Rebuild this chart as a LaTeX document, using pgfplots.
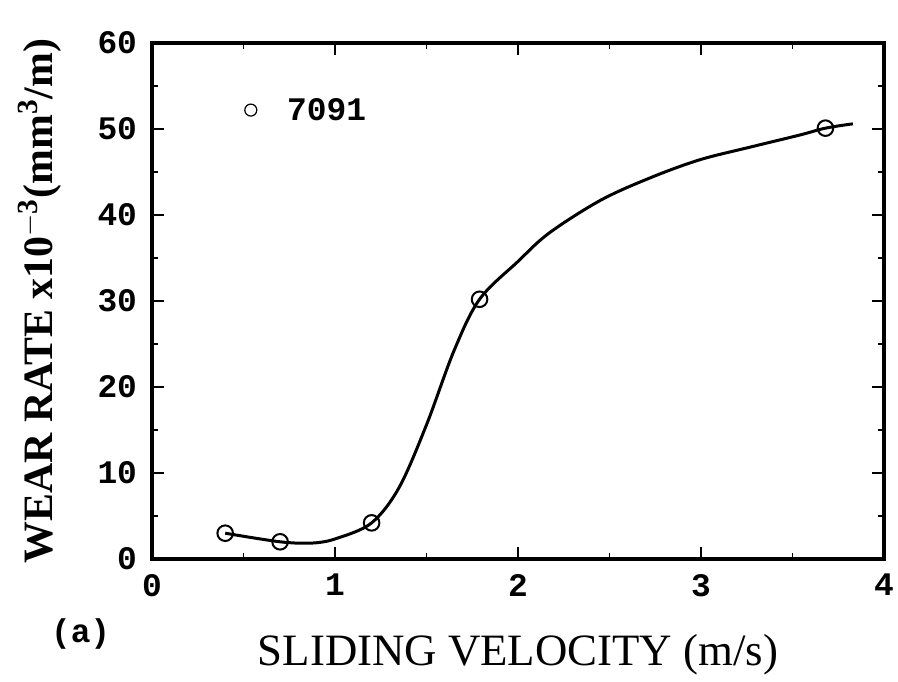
\documentclass[border=0pt]{standalone}
\usepackage{pgfplots}
\pgfplotsset{compat=1.18}
\usepackage{fontspec}
\setmainfont{Liberation Serif}
\setmonofont{Liberation Mono}
\begin{document}
\begin{tikzpicture}
\begin{axis}[
  scale only axis,
  width=366bp, height=258bp,
  xmin=0, xmax=4, ymin=0, ymax=60,
  xtick={0,1,2,3,4}, ytick={0,10,...,60},
  minor xtick={0.5,1.5,2.5,3.5},
  minor ytick={5,15,...,55},
  tick align=inside,
  major tick length=6bp, minor tick length=3bp,
  axis line style={line width=1.8bp},
  every tick/.style={black, line width=0.8bp},
  /pgf/number format/assume math mode=true,
  tick label style={font=\fontsize{16.5}{18}\selectfont\ttfamily\bfseries},
  xticklabel style={yshift=-4bp},
  yticklabel style={xshift=-4bp},
  xlabel={SLIDING VELOCITY (m/s)},
  xlabel style={font=\fontsize{22.5}{24}\selectfont, at={(axis description cs:0.5,-0.186)}, anchor=center},
  ylabel={\textbf{WEAR RATE x10$^{\mathbf{-3}}$(mm$^{\mathbf{3}}$/m)}},
  ylabel style={font=\fontsize{21}{22}\selectfont, at={(axis description cs:-0.153,0.5)}, anchor=center},
  clip=false,
]
\addplot[black, line width=1.5bp, smooth, tension=0.55] coordinates {
 (0.40,3.0) (0.70,2.0) (0.88,1.86) (1.01,2.4) (1.20,4.2)
 (1.35,8.3) (1.50,15.6) (1.65,24.2) (1.79,30.2) (2.0,34.6)
 (2.17,37.9) (2.45,41.7) (2.72,44.3)
 (2.99,46.4) (3.27,47.9) (3.54,49.3) (3.68,50.1) (3.83,50.6)
};
\addplot[only marks, mark=o, mark size=3.9bp, mark options={fill=white, draw=black, line width=1bp}] coordinates {
 (0.40,3.0) (0.70,2.0) (1.20,4.2) (1.79,30.2) (3.68,50.1)
};
\addplot[only marks, mark=o, mark size=3bp, mark options={draw=black, line width=0.6bp}] coordinates {(0.54,52.2)};
\node[anchor=west, font=\fontsize{16.5}{18}\selectfont\ttfamily\bfseries] at (axis cs:0.70,52.3) {7091};
\node[font=\fontsize{16.5}{18}\selectfont\ttfamily\bfseries] at (axis cs:-0.39,-8.7) {(a)};
\end{axis}
\pgfresetboundingbox
\path[use as bounding box] ([shift={(-76bp,-61.5bp)}]current axis.south west) rectangle ([shift={(7bp,21.5bp)}]current axis.north east);
\end{tikzpicture}
\end{document}
